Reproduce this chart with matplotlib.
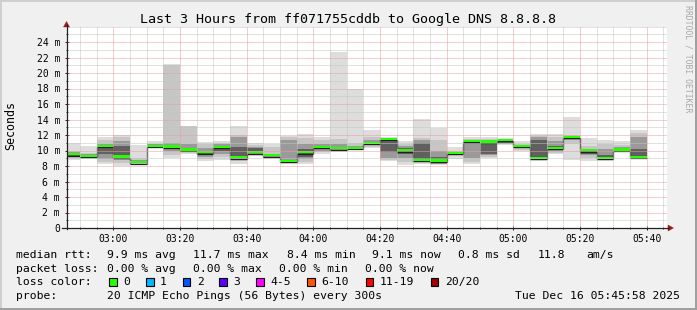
import matplotlib
matplotlib.use("Agg")
import matplotlib.pyplot as plt
from matplotlib.patches import Rectangle, Polygon
from matplotlib.lines import Line2D

W, H, DPI = 697, 310, 100
MONO = "DejaVu Sans Mono"

# ---------------- data ----------------
title = "Last 3 Hours from ff071755cddb to Google DNS 8.8.8.8"
ylabel = "Seconds"
side_text = "RRDTOOL / TOBI OETIKER"

# time axis in minutes after midnight (02:45:58 .. 05:45:58)
x_start = 2 * 60 + 45 + 58 / 60
x_end = 5 * 60 + 45 + 58 / 60
x_ticks = [180, 200, 220, 240, 260, 280, 300, 320, 340]
x_tick_labels = ["03:00", "03:20", "03:40", "04:00", "04:20",
                 "04:40", "05:00", "05:20", "05:40"]
y_ticks = [0, 2, 4, 6, 8, 10, 12, 14, 16, 18, 20, 22, 24]
y_tick_labels = ["0", "2 m", "4 m", "6 m", "8 m", "10 m", "12 m",
                 "14 m", "16 m", "18 m", "20 m", "22 m", "24 m"]

# 5-minute rounds (start minute of each round)
round_start = [165, 170, 175, 180, 185, 190, 195, 200, 205, 210, 215, 220,
               225, 230, 235, 240, 245, 250, 255, 260, 265, 270, 275, 280,
               285, 290, 295, 300, 305, 310, 315, 320, 325, 330, 335]
round_len = 5

# smoke bands (ms): outer (min/max) -> inner
lo1 = [8.8, 8.85, 8.3, 8.0, 8.25, 10.3, 9.0, 9.6, 8.6, 8.8, 8.3, 9.3, 8.9, 8.3,
       8.2, 9.6, 9.85, 10.1, 10.3, 8.6, 8.1, 8.3, 8.1, 8.9, 8.3, 9.0, 10.7,
       9.9, 8.6, 9.5, 8.8, 8.6, 8.7, 9.85, 9.0]
lo2 = [9.0, 8.95, 8.5, 8.4, 8.3, 10.4, 9.4, 9.8, 8.9, 9.2, 8.6, 9.5, 9.0, 8.4,
       8.5, 9.8, 10.0, 10.15, 10.5, 8.8, 8.5, 8.45, 8.2, 9.3, 8.5, 9.2, 10.8,
       10.1, 8.8, 9.7, 10.9, 9.0, 8.8, 9.9, 9.05]
lo3 = [9.2, 9.1, 8.9, 8.8, 8.35, 10.5, 9.9, 9.95, 9.2, 9.6, 8.9, 9.6, 9.2, 8.5,
       8.9, 10.0, 10.1, 10.2, 10.7, 9.0, 9.0, 8.55, 8.3, 9.5, 9.0, 9.4, 10.9,
       10.3, 8.95, 9.9, 11.3, 9.4, 8.85, 9.95, 9.1]
lo4 = [9.35, 9.2, 9.6, 9.2, 8.4, 10.55, 10.2, 10.0, 9.5, 10.0, 9.0, 9.65, 9.3,
       8.55, 9.1, 10.3, 10.15, 10.25, 10.85, 9.8, 9.5, 8.65, 8.4, 9.6, 10.9,
       9.6, 11.0, 10.45, 9.1, 10.1, 11.5, 9.6, 8.9, 10.0, 9.15]
hi4 = [9.6, 9.4, 10.6, 10.6, 8.6, 10.7, 10.7, 10.3, 9.9, 10.6, 10.5, 10.3, 9.45,
       8.8, 10.2, 10.6, 10.4, 10.4, 11.1, 11.3, 10.3, 11.0, 9.2, 9.75, 11.2,
       10.9, 11.3, 10.6, 11.3, 10.6, 11.8, 10.0, 9.4, 10.2, 10.2]
hi3 = [9.8, 9.5, 10.9, 11.2, 8.8, 10.8, 11.0, 10.8, 10.3, 10.8, 11.8, 10.5, 9.6,
       11.4, 10.8, 10.9, 10.8, 10.6, 11.3, 11.4, 10.6, 11.3, 10.0, 9.85, 11.3,
       11.1, 11.4, 10.7, 11.7, 11.2, 11.9, 10.2, 10.2, 10.4, 11.8]
hi2 = [9.9, 9.7, 11.4, 11.8, 9.0, 10.9, 21.0, 13.1, 10.8, 11.0, 12.0, 10.7, 10.5,
       11.7, 11.6, 11.4, 11.5, 11.0, 11.7, 11.5, 10.9, 11.6, 11.3, 10.0, 11.5,
       11.5, 11.5, 10.9, 11.9, 11.8, 12.0, 10.6, 10.9, 10.7, 12.3]
hi1 = [11.0, 10.6, 11.8, 12.0, 10.7, 11.2, 21.1, 13.2, 11.15, 11.2, 13.2, 11.0,
       10.9, 11.9, 12.1, 11.7, 22.7, 18.0, 12.6, 11.7, 11.2, 14.1, 12.9, 10.4,
       11.7, 11.8, 11.6, 11.2, 12.1, 12.1, 14.3, 11.6, 11.4, 11.2, 12.6]
median = [9.5, 9.3, 10.6, 9.2, 8.45, 10.6, 10.5, 10.1, 9.75, 10.45, 9.1, 9.75,
          9.35, 8.65, 9.75, 10.45, 10.25, 10.3, 11.0, 11.45, 10.0, 8.75, 8.7,
          9.7, 11.2, 11.15, 11.35, 10.6, 9.0, 10.35, 11.75, 10.0, 9.0, 10.1,
          9.15]

# legend texts
rtt_stats = ["9.9 ms avg", "11.7 ms max", "8.4 ms min", "9.1 ms now",
             "0.8 ms sd", "11.8", "am/s"]
loss_stats = ["0.00 % avg", "0.00 % max", "0.00 % min", "0.00 % now"]
loss_labels = ["0", "1", "2", "3", "4-5", "6-10", "11-19", "20/20"]
loss_colors = ["#26ff00", "#00b8ff", "#0059ff", "#5e00ff", "#ff00ff",
               "#ff5500", "#ff0000", "#a00000"]
probe_text = "20 ICMP Echo Pings (56 Bytes) every 300s"
date_text = "Tue Dec 16 05:45:58 2025"

# ---------------- style ----------------
BACK = "#f0f0f0"
smoke_colors = ["#dddddd", "#c6c6c6", "#9a9a9a", "#606060"]
minor_grid = "#c4c4c4"
major_grid = "#ee9c9c"
axis_col = "#222222"
arrow_col = "#9b1c1c"


def fx(x):
    return x / W


def fy(y):
    return 1 - y / H


fig = plt.figure(figsize=(W / DPI, H / DPI), dpi=DPI, facecolor=BACK)
ax = fig.add_axes([fx(66.5), fy(228), 600 / W, (228 - 26.5) / H])
ax.set_facecolor("white")
ax.set_xlim(x_start, x_end)
ax.set_ylim(0, 26)
for s in ax.spines.values():
    s.set_visible(False)

# grid (drawn over the smoke, like rrdtool)
dot = (0, (1, 1))
for m in range(170, 346, 5):
    if m not in x_ticks:
        ax.axvline(m, color=minor_grid, lw=0.72, ls=dot, zorder=5)
for v in range(1, 27):
    if v not in y_ticks:
        ax.axhline(v, color=minor_grid, lw=0.72, ls=dot, zorder=5)
for m in x_ticks:
    ax.axvline(m, color=major_grid, lw=0.72, ls=dot, zorder=5)
for v in y_ticks[1:]:
    ax.axhline(v, color=major_grid, lw=0.72, ls=dot, zorder=5)

# smoke
layers = [(lo1, hi1), (lo2, hi2), (lo3, hi3), (lo4, hi4)]
for (lo, hi), col in zip(layers, smoke_colors):
    ax.bar(round_start, [h - l for l, h in zip(lo, hi)], bottom=lo,
           width=round_len, align="edge", color=col, linewidth=0, zorder=2)

# median line + loss colored band
edges = round_start + [round_start[-1] + round_len]
ax.stairs([m - 0.15 for m in median], edges, baseline=None,
          color="#202020", lw=0.9, zorder=3)
ax.bar(round_start, 0.28, bottom=[m - 0.12 for m in median], width=round_len,
       align="edge", color=loss_colors[0], linewidth=0, zorder=4)

# ticks
ax.set_xticks(x_ticks)
ax.set_xticklabels(x_tick_labels, fontfamily=MONO, fontsize=7)
ax.set_xticks(list(range(170, 346, 5)), minor=True)
ax.set_yticks(y_ticks)
ax.set_yticklabels(y_tick_labels, fontfamily=MONO, fontsize=7)
ax.set_yticks(list(range(1, 26)), minor=True)
ax.tick_params(axis="both", which="major", direction="inout", length=2.5,
               width=0.72, color=axis_col)
ax.tick_params(axis="both", which="minor", direction="inout", length=1.6,
               width=0.72, color=axis_col)
ax.tick_params(axis="x", which="major", pad=3.0)
ax.tick_params(axis="y", which="major", pad=3.4)

# axis lines with arrows
fig.add_artist(Line2D([fx(66.5), fx(66.5)], [fy(228.5), fy(25)],
                      color=axis_col, lw=0.9))
fig.add_artist(Line2D([fx(62), fx(669)], [fy(228), fy(228)],
                      color=axis_col, lw=0.9))
fig.add_artist(Polygon([(fx(63.5), fy(27)), (fx(69.5), fy(27)),
                        (fx(66.5), fy(21.5))], closed=True,
                       facecolor=arrow_col, edgecolor=arrow_col, lw=0.3))
fig.add_artist(Polygon([(fx(668), fy(225)), (fx(668), fy(231)),
                        (fx(673.5), fy(228))], closed=True,
                       facecolor=arrow_col, edgecolor=arrow_col, lw=0.3))

# frame shading
fig.add_artist(Line2D([0, 1], [fy(0.5), fy(0.5)], color="#cfcfcf", lw=1.4))
fig.add_artist(Line2D([fx(0.5), fx(0.5)], [0, 1], color="#cfcfcf", lw=1.4))
fig.add_artist(Line2D([0, 1], [fy(309), fy(309)], color="#9e9e9e", lw=1.4))
fig.add_artist(Line2D([fx(696), fx(696)], [0, 1], color="#9e9e9e", lw=1.4))

# texts
fig.text(fx(348), fy(23.5), title, ha="center", va="baseline",
         fontfamily=MONO, fontsize=9.6, color="black")
fig.text(fx(11), fy(126), ylabel, ha="center", va="center", rotation=90,
         fontfamily=MONO, fontsize=8.4, color="black")
fig.text(fx(688), fy(59), side_text, ha="center", va="center", rotation=-90,
         fontfamily=MONO, fontsize=5.9, color="#a8a8a8")

LEG = 8.2
rows_y = [257.8, 271.6, 285.4, 299.2]
fig.text(fx(16), fy(rows_y[0]), "median rtt:", fontfamily=MONO, fontsize=LEG,
         va="baseline")
for txt, x in zip(rtt_stats, [107.3, 193.3, 286.7, 372.3, 458.3, 537.3, 586.7]):
    fig.text(fx(x), fy(rows_y[0]), txt, fontfamily=MONO, fontsize=LEG,
             va="baseline")
fig.text(fx(16), fy(rows_y[1]), "packet loss:", fontfamily=MONO, fontsize=LEG,
         va="baseline")
for txt, x in zip(loss_stats, [107.3, 193.3, 279.3, 365.0]):
    fig.text(fx(x), fy(rows_y[1]), txt, fontfamily=MONO, fontsize=LEG,
             va="baseline")
fig.text(fx(16), fy(rows_y[2]), "loss color:", fontfamily=MONO, fontsize=LEG,
         va="baseline")
sq_x = [109.3, 146.0, 182.7, 219.3, 256.0, 307.3, 365.7, 430.7]
for lab, col, x in zip(loss_labels, loss_colors, sq_x):
    fig.add_artist(Rectangle((fx(x), fy(285.7)), 7.6 / W, 8 / H,
                             facecolor=col, edgecolor="black", lw=0.8))
    fig.text(fx(x + 14), fy(rows_y[2]), lab, fontfamily=MONO, fontsize=LEG,
             va="baseline")
fig.text(fx(16), fy(rows_y[3]), "probe:", fontfamily=MONO, fontsize=LEG,
         va="baseline")
fig.text(fx(107.3), fy(rows_y[3]), probe_text, fontfamily=MONO, fontsize=LEG,
         va="baseline")
fig.text(fx(680), fy(rows_y[3]), date_text, fontfamily=MONO, fontsize=LEG,
         va="baseline", ha="right")

fig.savefig("out.png", dpi=DPI, facecolor=BACK)
